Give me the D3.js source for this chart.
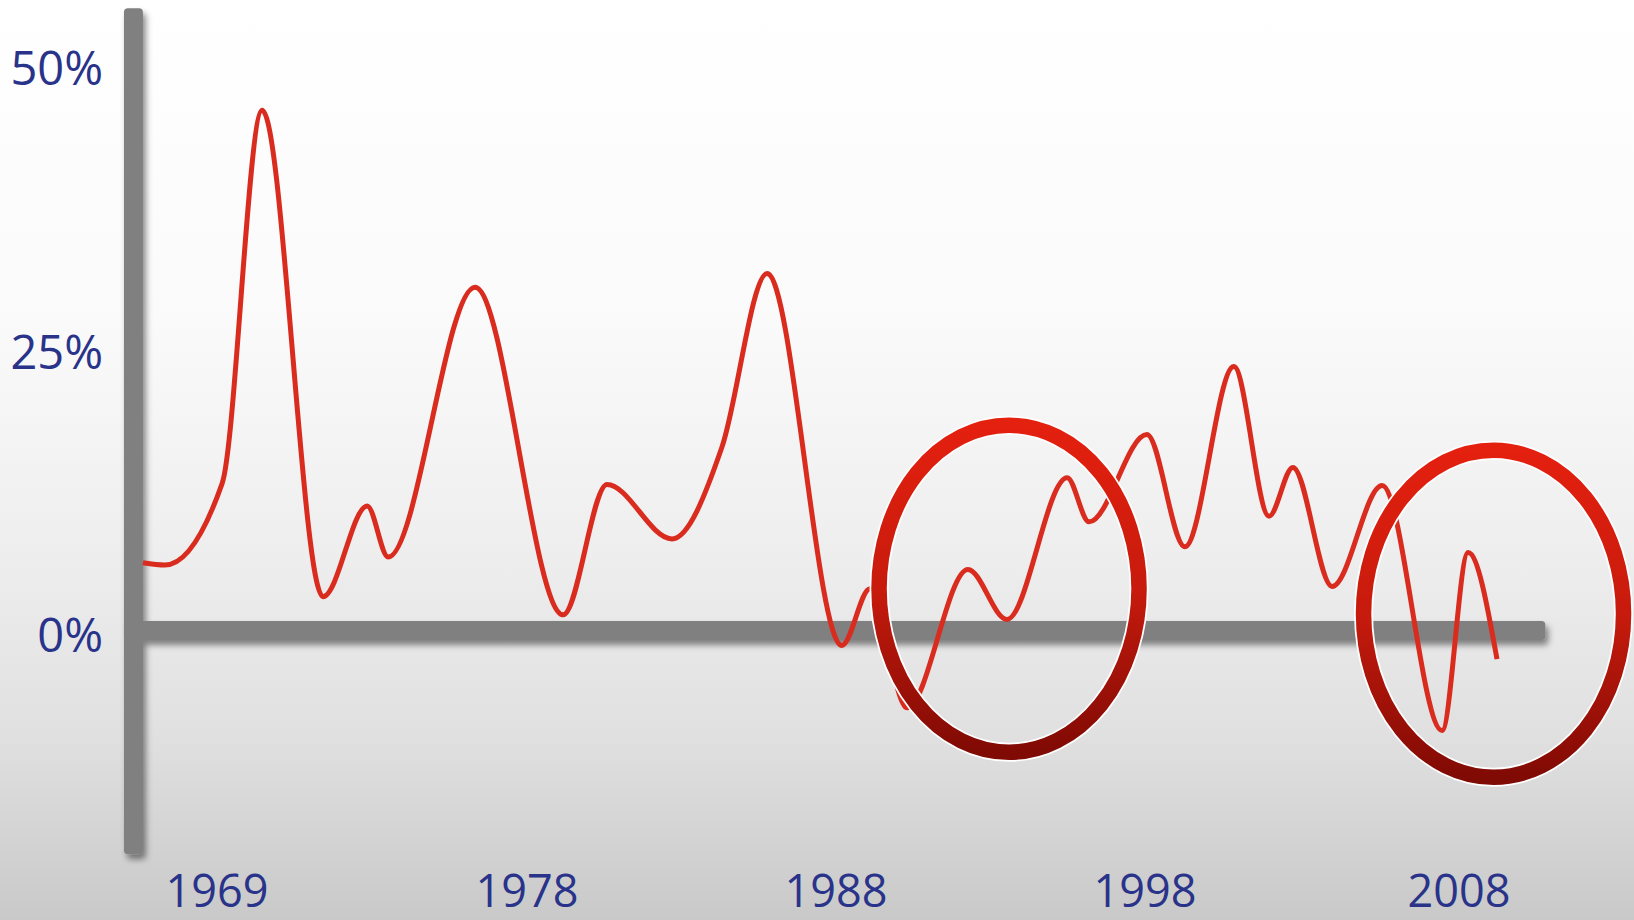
<!DOCTYPE html>
<html>
<head>
<meta charset="utf-8">
<script src="https://cdn.jsdelivr.net/npm/d3@7"></script>
<style>
  html, body { margin: 0; padding: 0; overflow: hidden; background: #fff; }
  svg { display: block; }
</style>
</head>
<body>
<svg id="chart" width="1634" height="920"></svg>
<script>
// Annual change series (time in years, value in percent)
const years = [1966.85, 1967.49, 1969.15, 1970.31, 1972.08, 1973.36, 1973.97, 1976.49,
  1979.17, 1980.59, 1982.69, 1984.31, 1985.77, 1988.19, 1989.10, 1990.30, 1992.27,
  1993.53, 1995.48, 1996.19, 1998.06, 1999.27, 2000.83, 2001.95, 2002.71, 2003.96,
  2005.55, 2007.46, 2008.29, 2009.21];
const values = [6.2, 6.0, 13.2, 46.1, 3.2, 11.2, 6.7, 30.5,
  1.6, 13.1, 8.3, 16.4, 31.7, -1.1, 3.9, -6.6, 5.6,
  1.2, 13.7, 9.8, 17.5, 7.6, 23.5, 10.3, 14.6, 4.1,
  13.0, -8.6, 7.1, -2.3];

// Axis labels
const yearTicks = [1969, 1978, 1988, 1998, 2008];
const valueTicks = [0, 25, 50];
const valueTickLabels = ["0%", "25%", "50%"];

// Highlighted periods (ring centres)
const highlightYears = [1993.6, 2009.1];
const highlightValues = [3.9, 1.7];

// Extent of the drawn axis bars
const axisYears = [1966.85, 2010.75];
const axisValues = [-19.5, 55.1];

const W = 1634, H = 920;
const svg = d3.select("#chart");
const defs = svg.append("defs");

// Background: white fading to light grey
const bg = defs.append("linearGradient").attr("id", "bg")
  .attr("x1", 0).attr("y1", 0).attr("x2", 0).attr("y2", 1);
[[0, "#ffffff"], [0.35, "#fafafa"], [0.6, "#eeeeee"], [0.8, "#e0e0e0"], [1, "#c9c9c9"]]
  .forEach(([o, c]) => bg.append("stop").attr("offset", o).attr("stop-color", c));
svg.append("rect").attr("width", W).attr("height", H).attr("fill", "url(#bg)");

// Ring gradient: bright red on top, dark red at the bottom
const rg = defs.append("linearGradient").attr("id", "ring")
  .attr("x1", 0).attr("y1", 0).attr("x2", 0).attr("y2", 1);
[[0, "#e4200f"], [0.5, "#c71b0d"], [1, "#800a04"]]
  .forEach(([o, c]) => rg.append("stop").attr("offset", o).attr("stop-color", c));

// Soft shadow for the axis bars
const sh = defs.append("filter").attr("id", "shadow")
  .attr("x", -0.1).attr("y", -0.1).attr("width", 1.2).attr("height", 1.3);
sh.append("feDropShadow").attr("dx", 3).attr("dy", 5).attr("stdDeviation", 3)
  .attr("flood-color", "#000").attr("flood-opacity", 0.45);

// Scales
const x = d3.scaleLinear().domain(yearTicks).range([217, 527, 836, 1145, 1459]);
const y = d3.scaleLinear().domain([0, 50]).range([633, 66]);

// Axis bars
const barW = 19;
const bars = svg.append("g").attr("filter", "url(#shadow)").attr("fill", "#808080");
const xLeft = x(axisYears[0]) - barW;
bars.append("rect")
  .attr("x", xLeft).attr("y", y(axisValues[1]))
  .attr("width", barW).attr("height", y(axisValues[0]) - y(axisValues[1]))
  .attr("rx", 4);
bars.append("rect")
  .attr("x", xLeft).attr("y", y(0) - 12)
  .attr("width", x(axisYears[1]) - xLeft).attr("height", barW)
  .attr("rx", 4);

// Value labels
const labelColor = "#29338a";
svg.append("g").selectAll("text").data(valueTicks).join("text")
  .attr("x", 103).attr("y", d => y(d) + 19)
  .attr("text-anchor", "end")
  .attr("font-family", "'Open Sans', sans-serif").attr("font-size", 47)
  .attr("fill", labelColor)
  .text((d, i) => valueTickLabels[i]);

// Year labels
svg.append("g").selectAll("text").data(yearTicks).join("text")
  .attr("x", d => x(d)).attr("y", 907)
  .attr("text-anchor", "middle")
  .attr("font-family", "'Open Sans', sans-serif").attr("font-size", 45)
  .attr("fill", labelColor)
  .text(d => d);

// Series line
const pts = years.map((t, i) => [t, values[i]]);
const line = d3.line().x(d => x(d[0])).y(d => y(d[1])).curve(d3.curveMonotoneX);
svg.append("path").datum(pts)
  .attr("d", line)
  .attr("fill", "none")
  .attr("stroke", "#d92c1f")
  .attr("stroke-width", 5)
  .attr("stroke-linejoin", "round");

// Highlight rings
const rings = svg.append("g");
highlightYears.forEach((t, i) => {
  const cx = x(t), cy = y(highlightValues[i]);
  rings.append("ellipse")
    .attr("cx", cx).attr("cy", cy).attr("rx", 130).attr("ry", 163.5)
    .attr("fill", "none").attr("stroke", "#ffffff").attr("stroke-width", 19);
  rings.append("ellipse")
    .attr("cx", cx).attr("cy", cy).attr("rx", 130).attr("ry", 163.5)
    .attr("fill", "none").attr("stroke", "url(#ring)").attr("stroke-width", 15.5);
});
</script>
</body>
</html>
